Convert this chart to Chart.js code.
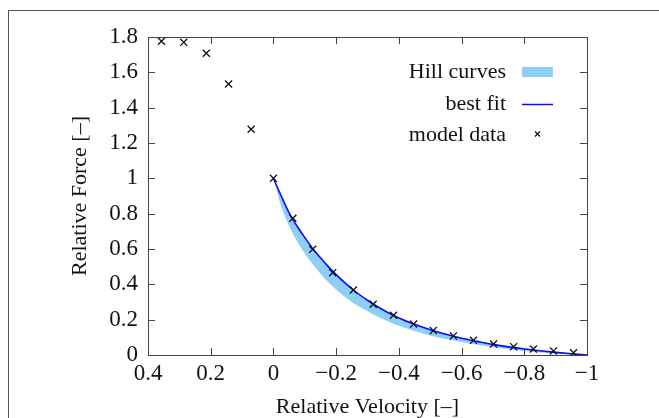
<!DOCTYPE html>
<html>
<head>
<meta charset="utf-8">
<script src="https://cdn.jsdelivr.net/npm/chart.js@4/dist/chart.umd.min.js"></script>
<style>
  html, body { margin: 0; padding: 0; background: #fff; overflow: hidden; }
  #wrap { position: relative; width: 659px; height: 418px; }
  #frame { position: absolute; left: 8px; top: 10px; width: 800px; height: 600px;
           border-left: 1px solid #555; border-top: 1px solid #555; pointer-events: none; }
  canvas { position: absolute; left: 0; top: 0; }
</style>
</head>
<body>
<div id="wrap">
  <canvas id="c" width="659" height="418"></canvas>
  <div id="frame"></div>
</div>
<script>
// ---- data ----
const modelVelocity = [0.357, 0.286, 0.214, 0.143, 0.071, 0,
  -0.062, -0.125, -0.189, -0.255, -0.318, -0.383, -0.447, -0.510,
  -0.574, -0.638, -0.702, -0.766, -0.829, -0.893, -0.957];
const modelForce = [1.776, 1.770, 1.708, 1.534, 1.278, 1.0,
  0.774, 0.598, 0.466, 0.368, 0.287, 0.225, 0.175, 0.138,
  0.108, 0.083, 0.062, 0.047, 0.034, 0.023, 0.013];

const curveVelocity = [0, -0.025, -0.05, -0.075, -0.1, -0.125, -0.15, -0.175, -0.2,
  -0.25, -0.3, -0.35, -0.4, -0.45, -0.5, -0.55, -0.6, -0.65, -0.7, -0.75,
  -0.8, -0.85, -0.9, -0.95, -1.0];
const fitForce = [1.0, 0.90, 0.805, 0.73, 0.665, 0.603, 0.55, 0.50, 0.455,
  0.375, 0.31, 0.255, 0.21, 0.174, 0.143, 0.117, 0.095, 0.077, 0.06, 0.046,
  0.034, 0.024, 0.015, 0.007, 0.0];
const hillLowerForce = [1.0, 0.84, 0.73, 0.645, 0.575, 0.515, 0.46, 0.412, 0.37,
  0.30, 0.248, 0.203, 0.166, 0.136, 0.11, 0.09, 0.074, 0.058, 0.044, 0.032,
  0.022, 0.014, 0.008, 0.003, 0.0];

const xTickValues = [0.4, 0.2, 0, -0.2, -0.4, -0.6, -0.8, -1];
const xTickLabels = ['0.4', '0.2', '0', '\u22120.2', '\u22120.4', '\u22120.6', '\u22120.8', '\u22121'];
const yTickValues = [0, 0.2, 0.4, 0.6, 0.8, 1, 1.2, 1.4, 1.6, 1.8];
const yTickLabels = ['0', '0.2', '0.4', '0.6', '0.8', '1', '1.2', '1.4', '1.6', '1.8'];

const legendLabels = ['Hill curves', 'best fit', 'model data'];
const xTitle = 'Relative Velocity [\u2013]';
const yTitle = 'Relative Force [\u2013]';

// ---- styling ----
const FONT = '"Liberation Serif", "Times New Roman", serif';
const BAND = '#8ecffa';
const LINE = '#0a0aff';
const AXIS = '#444';

const pts = (xs, ys) => xs.map((x, i) => ({ x: x, y: ys[i] }));

const frameAndTicks = {
  id: 'frameAndTicks',
  afterDraw(chart) {
    const { ctx, chartArea: a, scales: { x, y } } = chart;
    ctx.save();
    ctx.strokeStyle = AXIS;
    ctx.lineWidth = 1;
    ctx.beginPath();
    xTickValues.forEach(v => {
      const px = Math.round(x.getPixelForValue(v)) + 0.5;
      if (px < a.left + 2 || px > a.right - 2) return;
      ctx.moveTo(px, a.bottom); ctx.lineTo(px, a.bottom - 7);
      ctx.moveTo(px, a.top); ctx.lineTo(px, a.top + 7);
    });
    yTickValues.forEach(v => {
      const py = Math.round(y.getPixelForValue(v)) + 0.5;
      if (py < a.top + 2 || py > a.bottom - 2) return;
      ctx.moveTo(a.left, py); ctx.lineTo(a.left + 7, py);
      ctx.moveTo(a.right, py); ctx.lineTo(a.right - 7, py);
    });
    ctx.stroke();
    ctx.strokeRect(Math.round(a.left) + 0.5, Math.round(a.top) + 0.5,
                   Math.round(a.right - a.left), Math.round(a.bottom - a.top));

    // legend (inside plot, top-right)
    const tx = 506, sx = 522, sw = 31;
    const rows = [72, 104, 135];
    ctx.fillStyle = '#111';
    ctx.font = '22px ' + FONT;
    ctx.textAlign = 'right';
    ctx.textBaseline = 'middle';
    legendLabels.forEach((t, i) => ctx.fillText(t, tx, rows[i]));
    ctx.fillStyle = BAND;
    ctx.fillRect(sx, rows[0] - 5, sw, 10);
    ctx.strokeStyle = LINE; ctx.lineWidth = 1.5;
    ctx.beginPath(); ctx.moveTo(sx, rows[1] + 0.5); ctx.lineTo(sx + sw, rows[1] + 0.5); ctx.stroke();
    ctx.strokeStyle = '#111'; ctx.lineWidth = 1.2;
    const mx = sx + sw / 2, my = rows[2] - 1, d = 2.5;
    ctx.beginPath();
    ctx.moveTo(mx - d, my - d); ctx.lineTo(mx + d, my + d);
    ctx.moveTo(mx - d, my + d); ctx.lineTo(mx + d, my - d);
    ctx.stroke();
    ctx.restore();
  }
};

new Chart(document.getElementById('c'), {
  type: 'scatter',
  data: {
    datasets: [
      { label: 'hill-lower', data: pts(curveVelocity, hillLowerForce), showLine: true,
        borderWidth: 0, borderColor: 'rgba(0,0,0,0)', pointRadius: 0, fill: false,
        cubicInterpolationMode: 'monotone', order: 3 },
      { label: legendLabels[0], data: pts(curveVelocity, fitForce), showLine: true,
        borderWidth: 0, borderColor: 'rgba(0,0,0,0)', backgroundColor: BAND, pointRadius: 0,
        fill: '-1', cubicInterpolationMode: 'monotone', order: 2 },
      { label: legendLabels[1], data: pts(curveVelocity, fitForce), showLine: true,
        borderWidth: 1.6, borderColor: LINE, pointRadius: 0, fill: false,
        cubicInterpolationMode: 'monotone', order: 1 },
      { label: legendLabels[2], data: pts(modelVelocity, modelForce), showLine: false,
        pointStyle: 'crossRot', pointRadius: 5, borderWidth: 1.3, borderColor: '#111',
        backgroundColor: '#111', order: 0 }
    ]
  },
  options: {
    responsive: false,
    animation: false,
    events: [],
    layout: { padding: { left: 0, right: 72, top: 37, bottom: 0 } },
    plugins: { legend: { display: false }, tooltip: { enabled: false } },
    scales: {
      x: {
        type: 'linear', reverse: true, min: -1, max: 0.4,
        grid: { display: false, drawTicks: false },
        border: { display: false },
        afterBuildTicks: s => { s.ticks = xTickValues.map(v => ({ value: v })); },
        afterFit: s => { s.height = 63; },
        ticks: {
          padding: 5, color: '#111', maxRotation: 0, autoSkip: false,
          font: { family: FONT, size: 23 },
          callback: (v, i) => xTickLabels[i]
        },
        title: { display: true, text: xTitle, color: '#111',
                 font: { family: FONT, size: 22, lineHeight: 1.0 }, padding: { top: 0, bottom: 0 } }
      },
      y: {
        type: 'linear', min: 0, max: 1.8,
        grid: { display: false, drawTicks: false },
        border: { display: false },
        afterBuildTicks: s => { s.ticks = yTickValues.map(v => ({ value: v })); },
        afterFit: s => { s.width = 148; },
        ticks: {
          padding: 10, color: '#111', autoSkip: false,
          font: { family: FONT, size: 23 },
          callback: (v, i) => yTickLabels[i]
        },
        title: { display: true, text: yTitle, color: '#111',
                 font: { family: FONT, size: 22, lineHeight: 1.2 }, padding: { top: 67, bottom: 0 } }
      }
    }
  },
  plugins: [frameAndTicks]
});
</script>
</body>
</html>
